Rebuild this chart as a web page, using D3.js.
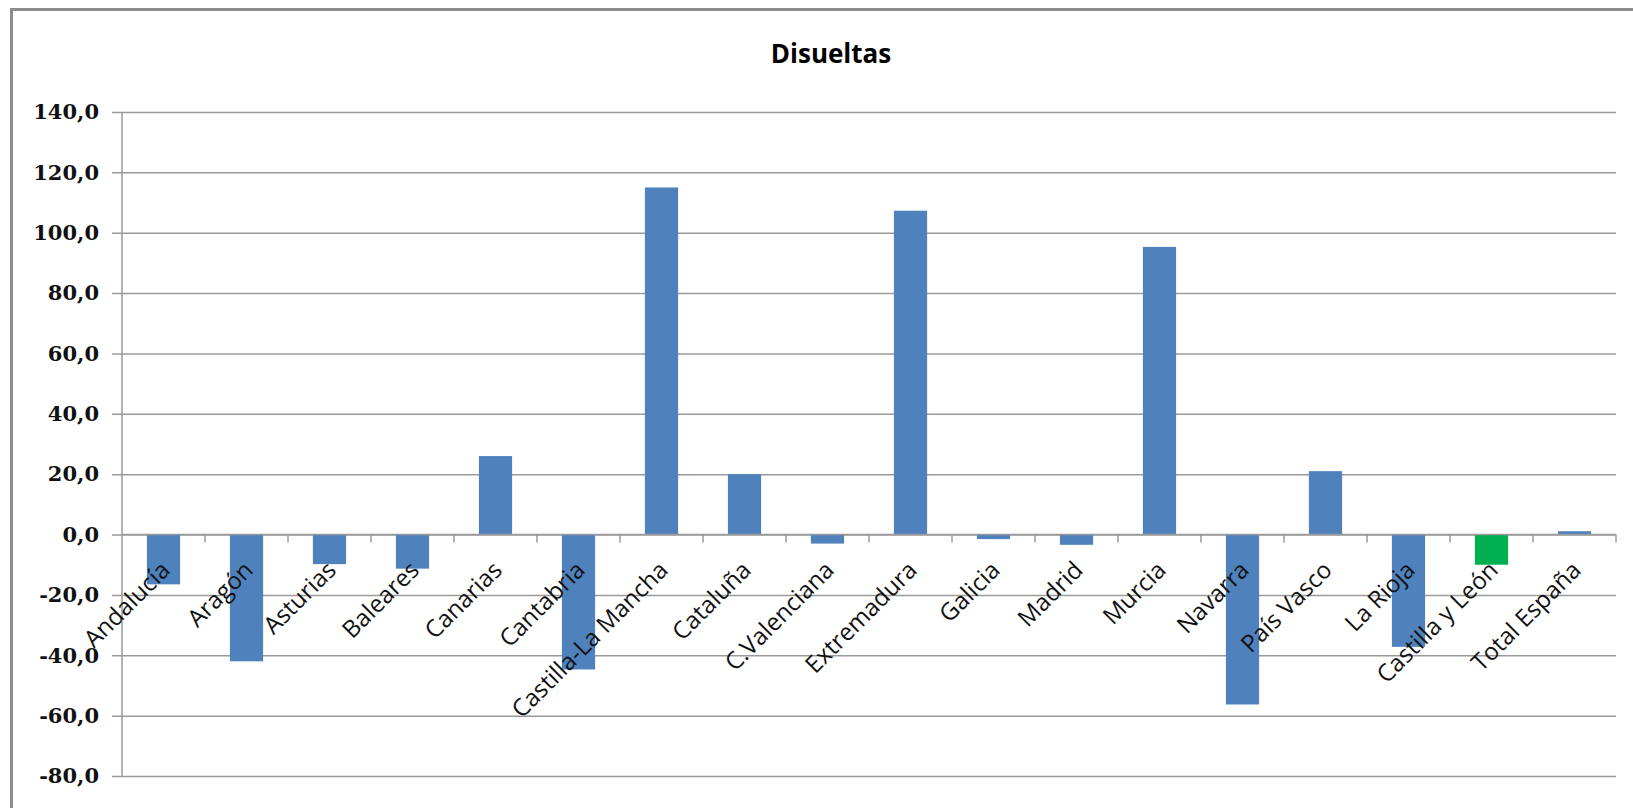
<!DOCTYPE html>
<html>
<head>
<meta charset="utf-8">
<script src="https://cdn.jsdelivr.net/npm/d3@7"></script>
<style>
  body { margin: 0; background: #fff; }
  svg { display: block; }
</style>
</head>
<body>
<div id="chart"></div>
<script>
const categories = ["Andalucía", "Aragón", "Asturias", "Baleares", "Canarias", "Cantabria",
  "Castilla-La Mancha", "Cataluña", "C.Valenciana", "Extremadura", "Galicia", "Madrid",
  "Murcia", "Navarra", "País Vasco", "La Rioja", "Castilla y León", "Total España"];
const values = [-16.5, -42, -9.8, -11.3, 26, -44.7, 115, 20, -3, 107.3, -1.5, -3.4,
  95.3, -56.3, 21, -37.2, -10, 1.1];
const yTicks = [-80, -60, -40, -20, 0, 20, 40, 60, 80, 100, 120, 140];
const highlight = "Castilla y León";

const W = 1633, H = 808;
const margin = { top: 112, right: 17, bottom: 32, left: 122 };

const svg = d3.select("#chart").append("svg")
  .attr("width", W)
  .attr("height", H);

// outer chart border (runs off the right and bottom of the picture)
svg.append("rect")
  .attr("x", 11.5).attr("y", 9.5)
  .attr("width", W + 20).attr("height", H + 20)
  .attr("fill", "none")
  .attr("stroke", "#8c8c8c")
  .attr("stroke-width", 3);

svg.append("text")
  .attr("x", 831).attr("y", 63)
  .attr("text-anchor", "middle")
  .style("font-family", "'Open Sans', sans-serif")
  .style("font-weight", "bold")
  .style("font-size", "26px")
  .text("Disueltas");

const x = d3.scaleBand()
  .domain(categories)
  .range([margin.left, W - margin.right]);

const y = d3.scaleLinear()
  .domain([-80, 140])
  .range([H - margin.bottom, margin.top]);

// gridlines + y ticks
const yAxis = d3.axisLeft(y)
  .tickValues(yTicks)
  .tickSize(-(W - margin.right - margin.left + 10))
  .tickPadding(13)
  .tickFormat(d => d3.format(".1f")(d).replace(".", ",").replace("−", "-"));

const gy = svg.append("g")
  .attr("transform", `translate(${margin.left - 10},0)`)
  .call(yAxis);
gy.select(".domain").remove();
gy.selectAll(".tick line")
  .attr("stroke", "#9a9a9a")
  .attr("stroke-width", 1.5);
gy.selectAll(".tick text")
  .style("font-family", "'DejaVu Serif', serif")
  .style("font-weight", "bold")
  .style("font-size", "21px")
  .attr("fill", "#111");

// y axis line
svg.append("line")
  .attr("x1", margin.left).attr("x2", margin.left)
  .attr("y1", y(140)).attr("y2", y(-80))
  .attr("stroke", "#9a9a9a")
  .attr("stroke-width", 1.5);

// bars
svg.append("g")
  .selectAll("rect")
  .data(categories)
  .join("rect")
  .attr("x", d => x(d) + x.bandwidth() * 0.3)
  .attr("width", x.bandwidth() * 0.4)
  .attr("y", (d, i) => Math.min(y(values[i]), y(0)))
  .attr("height", (d, i) => Math.abs(y(values[i]) - y(0)))
  .attr("fill", d => d === highlight ? "#00b050" : "#4f81bd");

// category axis at zero, ticks between categories
const x0 = y(0);
svg.append("line")
  .attr("x1", margin.left).attr("x2", W - margin.right)
  .attr("y1", x0).attr("y2", x0)
  .attr("stroke", "#9a9a9a")
  .attr("stroke-width", 1.5);

svg.append("g")
  .selectAll("line")
  .data(categories)
  .join("line")
  .attr("x1", d => x(d) + x.bandwidth())
  .attr("x2", d => x(d) + x.bandwidth())
  .attr("y1", x0).attr("y2", x0 + 8)
  .attr("stroke", "#9a9a9a")
  .attr("stroke-width", 1.5);

svg.append("g")
  .selectAll("text")
  .data(categories)
  .join("text")
  .attr("transform", d => `translate(${x(d) + x.bandwidth() / 2 + 8},${x0 + 37}) rotate(-45)`)
  .attr("text-anchor", "end")
  .style("font-family", "'Open Sans', sans-serif")
  .style("font-size", "24px")
  .attr("fill", "#111")
  .text(d => d);
</script>
</body>
</html>
